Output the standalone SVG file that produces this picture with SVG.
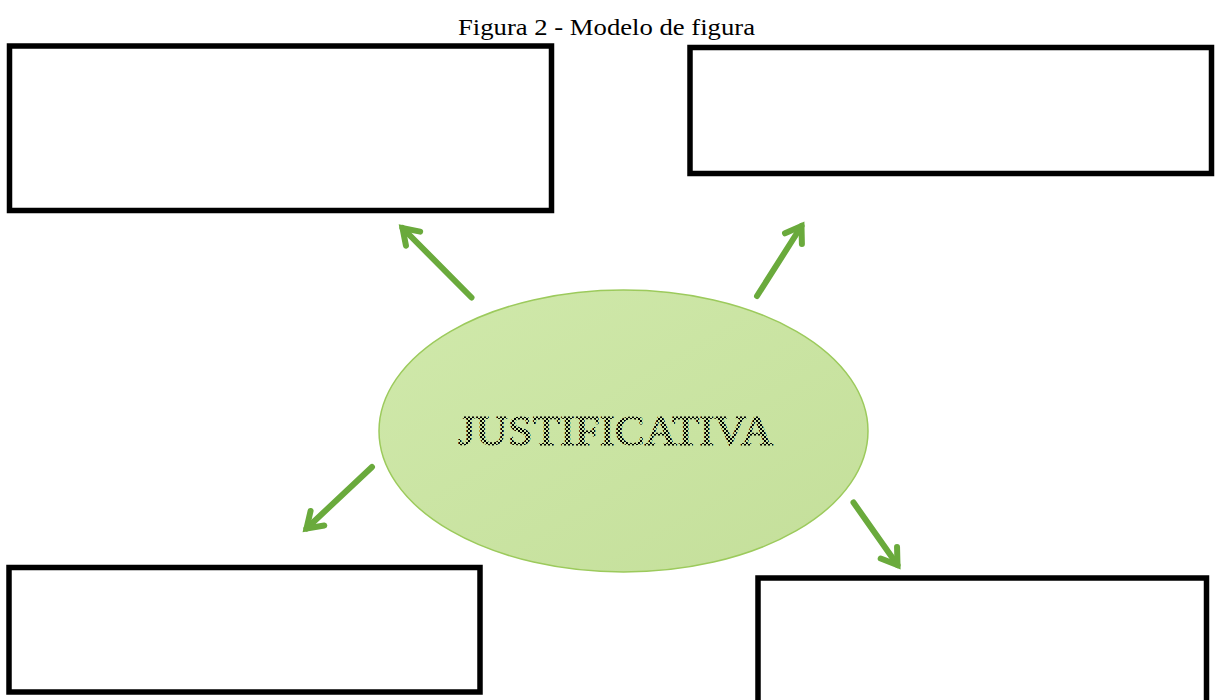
<svg xmlns="http://www.w3.org/2000/svg" width="1215" height="700" viewBox="0 0 1215 700">
  <style>
    .box { fill: #ffffff; stroke: #000000; stroke-width: 5.5; }
    .conn { fill: none; stroke: #6aaa3c; stroke-width: 6; stroke-linecap: round; }
    .title { font-family: "Liberation Serif", "Times New Roman", serif; font-size: 24px; fill: #000000; }
    .label { font-family: "Liberation Serif", "Times New Roman", serif; font-size: 42px; fill: url(#dots); stroke: url(#dots); stroke-width: 0.8; }
  </style>
  <defs>
    <pattern id="dots" width="4" height="4" patternUnits="userSpaceOnUse">
      <rect x="0" y="0" width="2" height="2" fill="#000000"/>
      <rect x="2" y="2" width="2" height="2" fill="#000000"/>
    </pattern>
    <linearGradient id="ellFill" x1="0" y1="0" x2="1" y2="1">
      <stop offset="0" stop-color="#d0e9ab"/>
      <stop offset="1" stop-color="#c4df9a"/>
    </linearGradient>
    <marker id="head" markerUnits="userSpaceOnUse" markerWidth="40" markerHeight="40" viewBox="-25 -20 40 40" refX="0" refY="0" orient="auto" overflow="visible">
      <path d="M -15 -10 L 0 0 L -15 10" fill="none" stroke="#6aaa3c" stroke-width="6" stroke-linecap="round" stroke-linejoin="miter"/>
    </marker>
  </defs>

  <text class="title" x="606.5" y="35" text-anchor="middle" textLength="297" lengthAdjust="spacingAndGlyphs">Figura 2 - Modelo de figura</text>

  <g id="box-top-left">
    <rect class="box" x="9.5" y="46" width="542" height="164.5"/>
  </g>
  <g id="box-top-right">
    <rect class="box" x="690" y="47.5" width="521.5" height="126"/>
  </g>
  <g id="box-bottom-left">
    <rect class="box" x="9" y="567.5" width="471" height="124.5"/>
  </g>
  <g id="box-bottom-right">
    <rect class="box" x="758" y="578" width="448.5" height="130"/>
  </g>

  <g id="center-ellipse">
    <ellipse cx="623.5" cy="431" rx="244.5" ry="141" fill="url(#ellFill)" stroke="#9cca5c" stroke-width="1.5"/>
    <text class="label" x="615.5" y="445" text-anchor="middle" textLength="315" lengthAdjust="spacingAndGlyphs">JUSTIFICATIVA</text>
  </g>

  <g id="connectors">
    <line class="conn" x1="471.5" y1="297.5" x2="402.5" y2="228" marker-end="url(#head)"/>
    <line class="conn" x1="757" y1="296" x2="801.5" y2="226" marker-end="url(#head)"/>
    <line class="conn" x1="372" y1="467" x2="306.5" y2="528.5" marker-end="url(#head)"/>
    <line class="conn" x1="853.5" y1="502.5" x2="897.5" y2="565" marker-end="url(#head)"/>
  </g>
</svg>
